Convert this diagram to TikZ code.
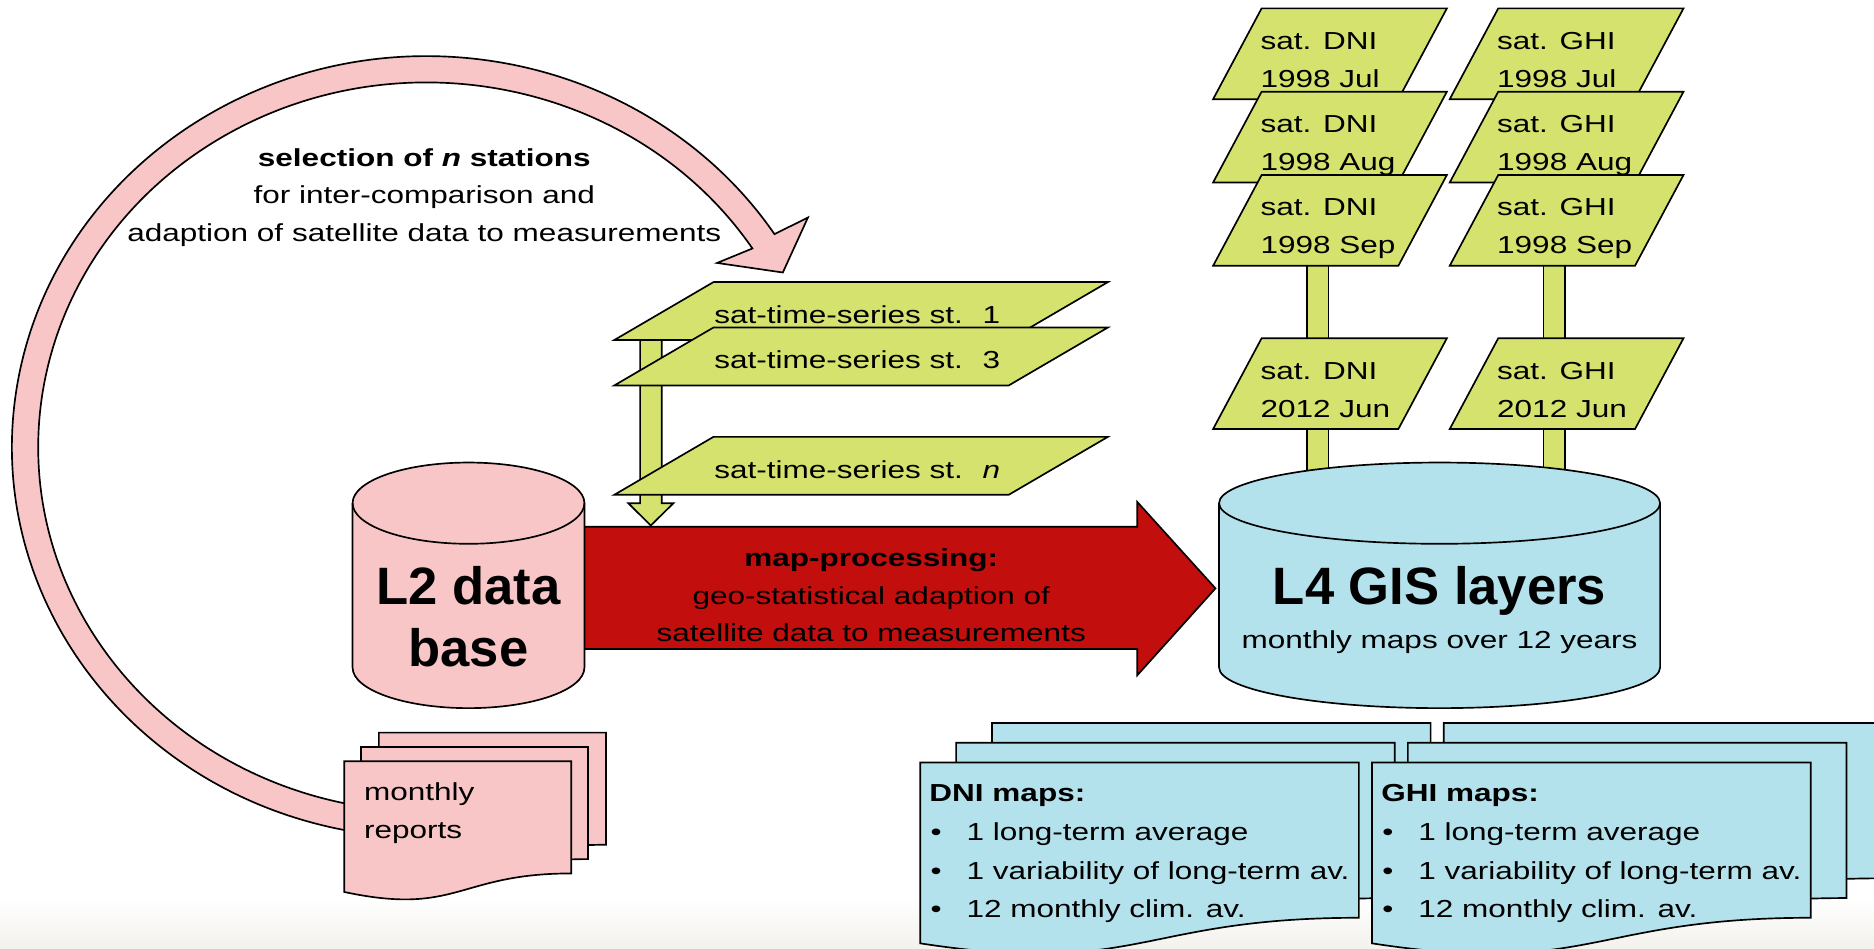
\documentclass[tikz,border=0pt]{standalone}
\usepackage{fontspec}
\setmainfont{Liberation Sans}[FakeStretch=1.28]
\newfontfamily\titlefont{Liberation Sans}
\usetikzlibrary{calc}

\definecolor{repink}{HTML}{F8C6C6}
\definecolor{regreen}{HTML}{D5E36E}
\definecolor{reblue}{HTML}{B4E2EC}
\definecolor{rered}{HTML}{C30E0E}
\definecolor{shadebot}{HTML}{F3F1ED}

\begin{document}
\begin{tikzpicture}[x=0.5pt, y=-0.5pt, line width=0.7pt,
  txt/.style={font=\fontsize{10.3}{16}\selectfont, inner sep=0pt, anchor=base},
  txtb/.style={txt, font=\fontsize{10.3}{16}\selectfont\bfseries},
  title/.style={inner sep=0pt, anchor=base, font=\titlefont\bfseries\fontsize{22}{26}\selectfont},
  pinkshape/.style={draw=black, fill=repink},
  greenshape/.style={draw=black, fill=regreen},
  blueshape/.style={draw=black, fill=reblue}]

\useasboundingbox (0,0) rectangle (1568,794);
\shade[top color=white, bottom color=shadebot] (0,752) rectangle (1568,794);

% selection loop
\coordinate (O) at (357,374);
\draw[pinkshape] ($(O)+(100:347 and 327)$) arc[start angle=100, end angle=327, x radius=347, y radius=327]
  -- (676,182) -- (655,228) -- (600,220)
  -- ($(O)+(327:325 and 305)$) arc[start angle=327, end angle=100, x radius=325, y radius=305] -- cycle;
\node[txtb] (sel1) at (355,139) {selection of \textit{n} stations};
\node[txt] (sel2) at (355,170.5) {for inter-comparison and};
\node[txt] (sel3) at (355,202) {adaption of satellite data to measurements};

% monthly reports
\foreach \x/\y in {317/613, 302/625, 288/637}
  \draw[pinkshape] (\x,\y) -- ({\x+190},\y) -- ({\x+190},{\y+93.8})
    .. controls ({\x+95},{\y+93.8}) and ({\x+95},{\y+129.6}) .. (\x,{\y+109.3}) -- cycle;
\node[txt, anchor=base west] (rep1) at (304,669.5) {monthly};
\node[txt, anchor=base west] (rep2) at (304,701.5) {reports};

% stations
\draw[greenshape] (535.6,278) -- (535.6,421) -- (525.7,421) -- (544.5,439.7) -- (563.5,421) -- (553.7,421) -- (553.7,278) -- cycle;
\foreach \t/\s [count=\i] in {236/1, 274/3, 365.5/\textit{n}}{
  \draw[greenshape] (514,{\t+48.5}) -- (597,\t) -- (927,\t) -- (844,{\t+48.5}) -- cycle;
  \node[txt, anchor=base west] (st\i) at (597,{\t+34.5}) {sat-time-series st.\hspace{0.8em}\s};
}

% map-processing arrow
\draw[draw=black, fill=rered] (480,440.7) -- (951.6,440.7) -- (951.6,420) -- (1017,492.3) -- (951.6,565) -- (951.6,543) -- (480,543) -- cycle;
\node[txtb] (map1) at (729,474) {map-processing:};
\node[txt] (map2) at (729,506) {geo-statistical adaption of};
\node[txt] (map3) at (729,537) {satellite data to measurements};

% L2 data base
\draw[pinkshape] (295,421) -- (295,558.5) arc[start angle=180, end angle=0, x radius=97, y radius=34]
  -- (489,421) arc[start angle=0, end angle=-180, x radius=97, y radius=34] -- cycle;
\draw (295,421) arc[start angle=180, end angle=0, x radius=97, y radius=34];
\node[title] (l2a) at (392,506) {L2 data};
\node[title] (l2b) at (392,558) {base};

% monthly satellite maps
\foreach \c in {0,198}
  \draw[greenshape] ({1093.4+\c},40) rectangle ({1111.6+\c},420);
\foreach \c/\lab in {0/DNI, 198/GHI}
  \foreach \t/\m [count=\i] in {7/1998 Jul, 76.7/1998 Aug, 146.4/1998 Sep, 283/2012 Jun}{
    \draw[greenshape] ({1015+\c},{\t+76}) -- ({1055.6+\c},\t) -- ({1210.6+\c},\t) -- ({1170+\c},{\t+76}) -- cycle;
    \node[txt, anchor=base west] (\lab-\i-a) at ({1054+\c},{\t+34.3}) {sat. \lab};
    \node[txt, anchor=base west] (\lab-\i-b) at ({1054+\c},{\t+66}) {\m};
  }

% L4 GIS layers
\draw[blueshape] (1020,421) -- (1020,558.5) arc[start angle=180, end angle=0, x radius=184.5, y radius=34]
  -- (1389,421) arc[start angle=0, end angle=-180, x radius=184.5, y radius=34] -- cycle;
\draw (1020,421) arc[start angle=180, end angle=0, x radius=184.5, y radius=34];
\node[title] (l4a) at (1204.5,506) {L4 GIS layers};
\node[txt] (l4b) at (1204.5,542.5) {monthly maps over 12 years};

% map documents
\foreach \x/\y in {830/605, 800/621.5, 770/638, 1208/605, 1178/621.5, 1148/638}
  \draw[blueshape] (\x,\y) -- ({\x+367},\y) -- ({\x+367},{\y+129.9})
    .. controls ({\x+183.5},{\y+129.9}) and ({\x+183.5},{\y+179.4}) .. (\x,{\y+151.3}) -- cycle;
\foreach \c/\lab in {0/DNI, 378/GHI}{
  \node[txtb, anchor=base west] (\lab-head) at ({777+\c},671) {\lab\ maps:};
  \foreach \y/\entry [count=\i] in {703/1 long-term average, 735.5/1 variability of long-term av., 768/12 monthly clim. av.}{
    \node[txt, anchor=base west] (\lab-dot-\i) at ({778+\c},\y) {•};
    \node[txt, anchor=base west] (\lab-item-\i) at ({808+\c},\y) {\entry};
  }
}

\end{tikzpicture}
\end{document}
